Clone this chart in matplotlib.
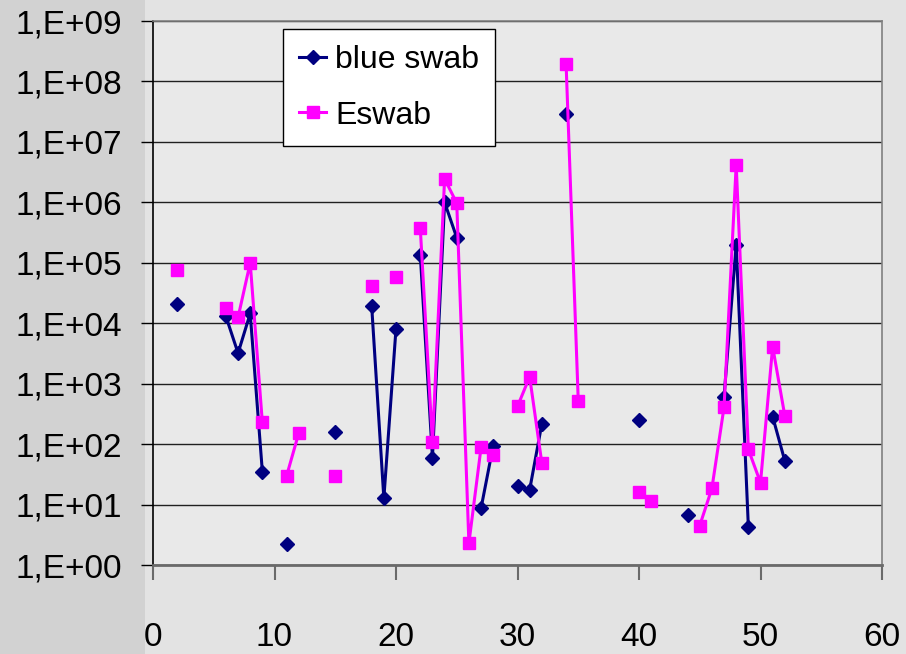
import numpy as np
import matplotlib
matplotlib.use("Agg")
import matplotlib.pyplot as plt
from matplotlib.patches import Rectangle
from matplotlib.ticker import FixedLocator, FixedFormatter

# sample number vs. count
blue_x = [2, 6, 7, 8, 9, 11, 15, 18, 19, 20, 22, 23, 24, 25, 27, 28, 30, 31, 32,
          34, 40, 44, 47, 48, 49, 51, 52]
blue_y = [2.1e4, 1.3e4, 3.2e3, 1.45e4, 35, 2.2, 160, 1.9e4, 12.7, 8.1e3, 1.35e5, 60,
          1.0e6, 2.6e5, 8.7, 94, 20, 17.5, 215, 2.9e7, 250, 6.7, 610, 2.0e5, 4.3,
          285, 53]

eswab_x = [2, 6, 7, 8, 9, 11, 12, 15, 18, 20, 22, 23, 24, 25, 26, 27, 28, 30, 31,
           32, 34, 35, 40, 41, 45, 46, 47, 48, 49, 50, 51, 52]
eswab_y = [7.6e4, 1.8e4, 1.25e4, 1.0e5, 228, 30, 153, 30, 4.2e4, 5.9e4, 3.7e5, 107,
           2.45e6, 9.7e5, 2.3, 88, 66, 420, 1.3e3, 49, 1.95e8, 525, 16, 11.5, 4.5,
           18.5, 410, 4.2e6, 82, 23, 4.1e3, 295]

decades = list(range(0, 10))
ytick_labels = ["1,E+%02d" % k for k in decades]
xticks = [0, 10, 20, 30, 40, 50, 60]


def with_gaps(xs, ys):
    # break the line where a sample number is missing
    gx, gy = [], []
    for i, (a, b) in enumerate(zip(xs, ys)):
        if i > 0 and a - xs[i - 1] > 1:
            gx.append(np.nan)
            gy.append(np.nan)
        gx.append(a)
        gy.append(b)
    return gx, gy


plt.rcParams['font.family'] = ['Liberation Sans', 'DejaVu Sans']

fig = plt.figure(figsize=(9.06, 6.54), dpi=100)
fig.patch.set_facecolor('#e3e3e3')
fig.patches.append(Rectangle((0, 0), 145 / 906, 1, transform=fig.transFigure,
                             facecolor='#d2d2d2', edgecolor='none', zorder=-10))

ax = fig.add_axes([153 / 906, 1 - 565 / 654, 729 / 906, 544 / 654])
ax.set_facecolor('#e9e9e9')

bx, by = with_gaps(blue_x, blue_y)
ex, ey = with_gaps(eswab_x, eswab_y)
ax.plot(bx, by, color='#000080', lw=2.2, marker='D', ms=7.5, label='blue swab', zorder=3)
ax.plot(ex, ey, color='#ff00ff', lw=2.2, marker='s', ms=9, label='Eswab', zorder=4)

ax.set_yscale('log')
ax.set_ylim(1, 1e9)
ax.set_xlim(0, 60)
ax.yaxis.set_major_locator(FixedLocator([10.0 ** k for k in decades]))
ax.yaxis.set_major_formatter(FixedFormatter(ytick_labels))
ax.yaxis.set_minor_locator(FixedLocator([]))
ax.set_xticks(xticks)

ax.grid(axis='y', color='#202020', lw=1)
ax.set_axisbelow(True)

for side in ['top', 'right']:
    ax.spines[side].set_color('#808080')
    ax.spines[side].set_linewidth(1.2)
ax.spines['left'].set_color('black')
ax.spines['left'].set_linewidth(1.2)
ax.spines['bottom'].set_color('#6a6a6a')
ax.spines['bottom'].set_linewidth(2)

ax.tick_params(axis='y', direction='out', length=9, width=1, color='black',
               pad=13, labelsize=24)
ax.tick_params(axis='x', direction='out', length=11, width=1.5, color='#6a6a6a',
               pad=30, labelsize=24)

leg = ax.legend(loc='upper left', bbox_to_anchor=(283 / 906, 1 - 29 / 654),
                bbox_transform=fig.transFigure, borderaxespad=0, fontsize=23,
                frameon=True, fancybox=False, framealpha=1, edgecolor='black',
                handlelength=0.85, handletextpad=0.28, labelspacing=0.8,
                borderpad=0.5)
leg.get_frame().set_linewidth(1)

fig.savefig('out.png', dpi=100, facecolor=fig.get_facecolor())
